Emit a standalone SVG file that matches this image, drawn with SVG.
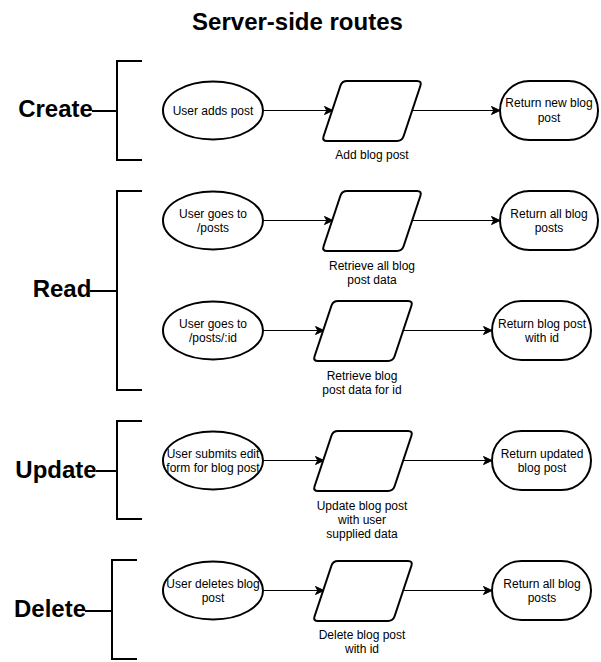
<svg xmlns="http://www.w3.org/2000/svg" xmlns:xlink="http://www.w3.org/1999/xlink" width="601" height="662" viewBox="0 0 601 662">
<style>
  .t { font-family: "Liberation Sans", Arial, sans-serif; font-size: 12px; fill: #000; text-anchor: middle; }
  .h { font-family: "Liberation Sans", Arial, sans-serif; font-size: 24px; font-weight: bold; fill: #000; text-anchor: middle; }
  .shape { fill: #fff; stroke: #000; stroke-width: 2; }
  .br { fill: none; stroke: #000; stroke-width: 2; }
  .edge { fill: none; stroke: #000; stroke-width: 1; marker-end: url(#arr); }
</style>
<defs>
  <marker id="arr" markerUnits="userSpaceOnUse" markerWidth="12" markerHeight="12" refX="9" refY="4.5" orient="auto">
    <path d="M0.5,0.5 L9,4.5 L0.5,8.5 L2.8,4.5 Z" fill="#000" stroke="#000" stroke-width="1" stroke-linejoin="miter"/>
  </marker>
  <path id="para" d="M25,0 L95,0 Q100,0 98.42,4.74 L81.58,55.26 Q80,60 75,60 L5,60 Q0,60 1.58,55.26 L18.42,4.74 Q20,0 25,0 Z"/>
</defs>
<rect width="601" height="662" fill="#fff"/>
<g id="title"><text class="h" x="297.5" y="30">Server-side routes</text></g>

<g id="create-bracket">
  <path class="br" d="M142,61 H117 V160 H142"/>
  <line class="br" x1="92" y1="111" x2="117" y2="111"/>
  <text class="h" x="55.5" y="117">Create</text>
</g>
<g id="read-bracket">
  <path class="br" d="M142,191 H117 V390 H142"/>
  <line class="br" x1="90" y1="291" x2="117" y2="291"/>
  <text class="h" x="62" y="297">Read</text>
</g>
<g id="update-bracket">
  <path class="br" d="M142,421 H117 V519 H142"/>
  <line class="br" x1="96" y1="471" x2="117" y2="471"/>
  <text class="h" x="56" y="478">Update</text>
</g>
<g id="delete-bracket">
  <path class="br" d="M137,560 H112 V659 H137"/>
  <line class="br" x1="85" y1="611" x2="112" y2="611"/>
  <text class="h" x="50" y="617">Delete</text>
</g>

<g id="connectors">
  <line class="edge" x1="264" y1="110.5" x2="333" y2="110.5"/>
  <line class="edge" x1="412" y1="110.5" x2="500" y2="110.5"/>
  <line class="edge" x1="264" y1="220.5" x2="333" y2="220.5"/>
  <line class="edge" x1="412" y1="220.5" x2="500" y2="220.5"/>
  <line class="edge" x1="264" y1="330.5" x2="324" y2="330.5"/>
  <line class="edge" x1="403" y1="330.5" x2="492" y2="330.5"/>
  <line class="edge" x1="264" y1="460.5" x2="324" y2="460.5"/>
  <line class="edge" x1="403" y1="460.5" x2="492" y2="460.5"/>
  <line class="edge" x1="264" y1="590.5" x2="324" y2="590.5"/>
  <line class="edge" x1="403" y1="590.5" x2="492" y2="590.5"/>
</g>

<!-- Row 1 -->
<g id="user-adds-post">
  <ellipse class="shape" cx="213" cy="110.5" rx="50" ry="29"/>
  <text class="t" x="213" y="115">User adds post</text>
</g>
<g id="add-blog-post">
  <use xlink:href="#para" href="#para" class="shape" x="322" y="81"/>
  <text class="t" x="372" y="159">Add blog post</text>
</g>
<g id="return-new-blog-post">
  <rect class="shape" x="500" y="81" width="98" height="59" rx="29.5" ry="29.5"/>
  <text class="t" x="549" y="107">Return new blog</text>
  <text class="t" x="549" y="122">post</text>
</g>

<!-- Row 2 -->
<g id="user-goes-posts">
  <ellipse class="shape" cx="213" cy="220.5" rx="50" ry="29"/>
  <text class="t" x="213" y="218">User goes to</text>
  <text class="t" x="213" y="232">/posts</text>
</g>
<g id="retrieve-all">
  <use xlink:href="#para" href="#para" class="shape" x="322" y="191"/>
  <text class="t" x="372" y="270">Retrieve all blog</text>
  <text class="t" x="372" y="284">post data</text>
</g>
<g id="return-all-posts-1">
  <rect class="shape" x="500" y="191" width="98" height="59" rx="29.5" ry="29.5"/>
  <text class="t" x="549" y="218">Return all blog</text>
  <text class="t" x="549" y="232">posts</text>
</g>

<!-- Row 3 -->
<g id="user-goes-post-id">
  <ellipse class="shape" cx="213" cy="330.5" rx="50" ry="29"/>
  <text class="t" x="213" y="328">User goes to</text>
  <text class="t" x="213" y="342">/posts/:id</text>
</g>
<g id="retrieve-one">
  <use xlink:href="#para" href="#para" class="shape" x="313" y="301"/>
  <text class="t" x="362" y="380">Retrieve blog</text>
  <text class="t" x="362" y="394">post data for id</text>
</g>
<g id="return-post-id">
  <rect class="shape" x="492" y="301" width="99" height="59" rx="29.5" ry="29.5"/>
  <text class="t" x="542" y="328">Return blog post</text>
  <text class="t" x="542" y="342">with id</text>
</g>

<!-- Row 4 -->
<g id="user-submits-edit">
  <ellipse class="shape" cx="213" cy="460.5" rx="50" ry="29"/>
  <text class="t" x="213" y="458">User submits edit</text>
  <text class="t" x="213" y="472">form for blog post</text>
</g>
<g id="update-post">
  <use xlink:href="#para" href="#para" class="shape" x="313" y="431"/>
  <text class="t" x="362" y="510">Update blog post</text>
  <text class="t" x="362" y="524">with user</text>
  <text class="t" x="362" y="538">supplied data</text>
</g>
<g id="return-updated">
  <rect class="shape" x="492" y="431" width="99" height="59" rx="29.5" ry="29.5"/>
  <text class="t" x="542" y="458">Return updated</text>
  <text class="t" x="542" y="472">blog post</text>
</g>

<!-- Row 5 -->
<g id="user-deletes">
  <ellipse class="shape" cx="213" cy="590.5" rx="50" ry="29"/>
  <text class="t" x="213" y="588">User deletes blog</text>
  <text class="t" x="213" y="602">post</text>
</g>
<g id="delete-post">
  <use xlink:href="#para" href="#para" class="shape" x="313" y="561"/>
  <text class="t" x="362" y="639">Delete blog post</text>
  <text class="t" x="362" y="653">with id</text>
</g>
<g id="return-all-posts-2">
  <rect class="shape" x="492" y="561" width="99" height="59" rx="29.5" ry="29.5"/>
  <text class="t" x="542" y="588">Return all blog</text>
  <text class="t" x="542" y="602">posts</text>
</g>
</svg>
